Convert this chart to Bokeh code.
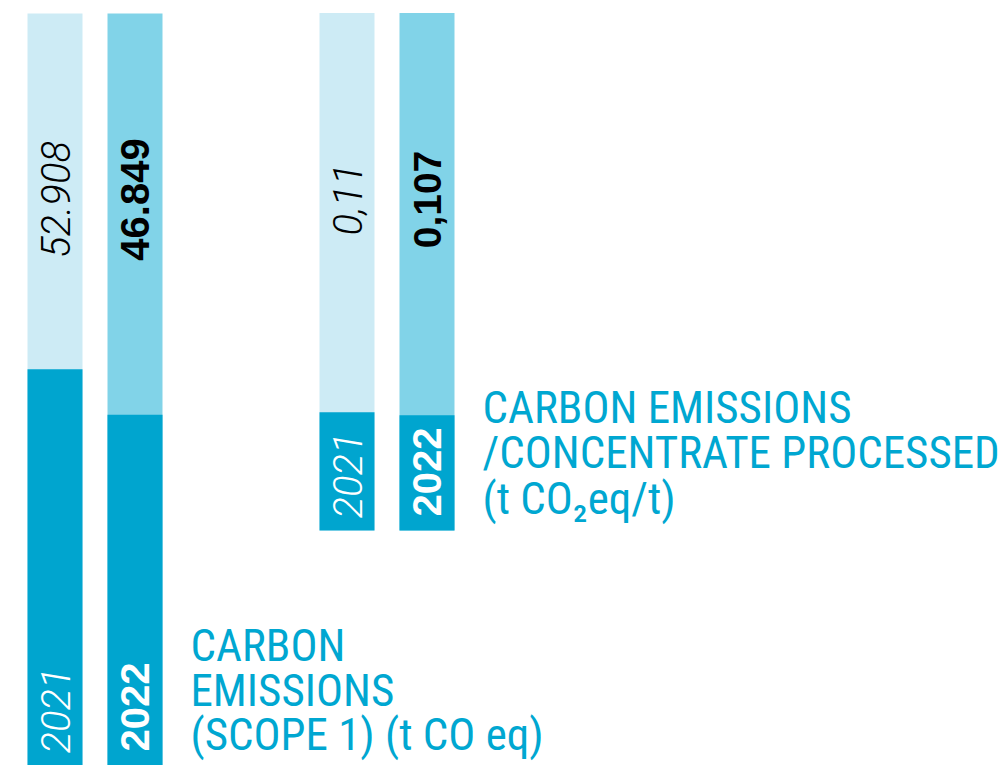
import math
from bokeh.plotting import figure
from bokeh.models import Range1d
from bokeh.core.properties import value
from bokeh.embed import file_html
from bokeh.resources import INLINE

# ---- data ----
years = ["2021", "2022"]
scope1_values = [52.908, 46.849]
scope1_labels = ["52.908", "46.849"]
intensity_values = [0.11, 0.107]
intensity_labels = ["0,11", "0,107"]
scope1_title = ["CARBON", "EMISSIONS", "(SCOPE 1) (t CO eq)"]
intensity_title = ["CARBON EMISSIONS", "/CONCENTRATE PROCESSED", "(t CO\u2082eq/t)"]

# ---- layout / style ----
W, H = 1000, 765
DARK = "#00a5cf"
LIGHT = ["#cdebf5", "#81d3e8"]
TITLE_COLOR = "#00a7d1"
LEFT_X = [54.5, 134.5]
RIGHT_X = [346.5, 426.5]
BAR_W = 55
SCOPE1_PPU = 7.488        # pixels per t CO2eq
RATIO_PPU = 1076.0        # pixels per t CO2eq/t
RATIO_BASE_PX = 235       # height of right chart baseline above bottom
SCOPE1_FULL = 752 / SCOPE1_PPU
RATIO_FULL = 517.5 / RATIO_PPU

LIGHT_FONT = value("Roboto Light")
BOLD_FONT = value("Liberation Sans")
TITLE_FONT = value("Roboto Condensed, Liberation Sans Narrow, DejaVu Sans Condensed, sans-serif")

p = figure(width=W, height=H, x_range=Range1d(0, W), y_range=Range1d(0, H / SCOPE1_PPU),
           output_backend="svg", toolbar_location=None, min_border=0,
           background_fill_color="white", border_fill_color="white")
p.extra_y_ranges = {
    "ratio": Range1d(-RATIO_BASE_PX / RATIO_PPU, (H - RATIO_BASE_PX) / RATIO_PPU),
    "px": Range1d(H, 0),
}
p.xaxis.visible = False
p.yaxis.visible = False
p.grid.visible = False
p.outline_line_color = None

# ---- left chart: scope 1 ----
p.vbar(x=LEFT_X, width=BAR_W, bottom=0, top=[SCOPE1_FULL] * 2, fill_color=LIGHT, line_color=None)
p.vbar(x=LEFT_X, width=BAR_W, bottom=0, top=scope1_values, fill_color=DARK, line_color=None)

# ---- right chart: intensity ----
p.vbar(x=RIGHT_X, width=BAR_W, bottom=0, top=[RATIO_FULL] * 2, fill_color=LIGHT, line_color=None,
       y_range_name="ratio")
p.vbar(x=RIGHT_X, width=BAR_W, bottom=0, top=intensity_values, fill_color=DARK, line_color=None,
       y_range_name="ratio")

rot = math.pi / 2
val_y_left = (H - 199) / SCOPE1_PPU
val_y_right = (530 - 199) / RATIO_PPU

# value labels
p.text(x=[LEFT_X[0]], y=[val_y_left], text=[scope1_labels[0]], angle=rot, text_align="center",
       text_baseline="middle", text_font=LIGHT_FONT, text_font_style="italic",
       text_font_size="40px", text_color="#000000")
p.text(x=[LEFT_X[1]], y=[val_y_left], text=[scope1_labels[1]], angle=rot, text_align="center",
       text_baseline="middle", text_font=BOLD_FONT, text_font_style="bold",
       text_font_size="40px", text_color="#000000")
p.text(x=[RIGHT_X[0]], y=[val_y_right], text=[intensity_labels[0]], angle=rot, text_align="center",
       text_baseline="middle", text_font=LIGHT_FONT, text_font_style="italic",
       text_font_size="40px", text_color="#000000", y_range_name="ratio")
p.text(x=[RIGHT_X[1]], y=[val_y_right], text=[intensity_labels[1]], angle=rot, text_align="center",
       text_baseline="middle", text_font=BOLD_FONT, text_font_style="bold",
       text_font_size="39px", text_color="#000000", y_range_name="ratio")

# year labels
for xs, rng in ((LEFT_X, "default"), (RIGHT_X, "ratio")):
    kw = {} if rng == "default" else {"y_range_name": rng}
    p.text(x=[xs[0]], y=[0], text=[years[0]], angle=rot, text_align="left", text_baseline="middle",
           y_offset=-12, text_font=LIGHT_FONT, text_font_style="italic", text_font_size="40px",
           text_color="white", **kw)
    p.text(x=[xs[1]], y=[0], text=[years[1]], angle=rot, text_align="left", text_baseline="middle",
           y_offset=-14, text_font=BOLD_FONT, text_font_style="bold", text_font_size="40px",
           text_color="white", **kw)

# titles
left_baselines = [645, 690, 734]
right_baselines = [407, 452, 498]
p.text(x=[190] * 3, y=left_baselines, text=scope1_title, text_align="left", text_baseline="alphabetic",
       text_font=TITLE_FONT, text_font_size="45px", text_color=TITLE_COLOR, y_range_name="px")
p.text(x=[482] * 3, y=right_baselines, text=intensity_title, text_align="left", text_baseline="alphabetic",
       text_font=TITLE_FONT, text_font_size="45px", text_color=TITLE_COLOR, y_range_name="px")

open("out.html", "w").write(file_html(p, INLINE))
